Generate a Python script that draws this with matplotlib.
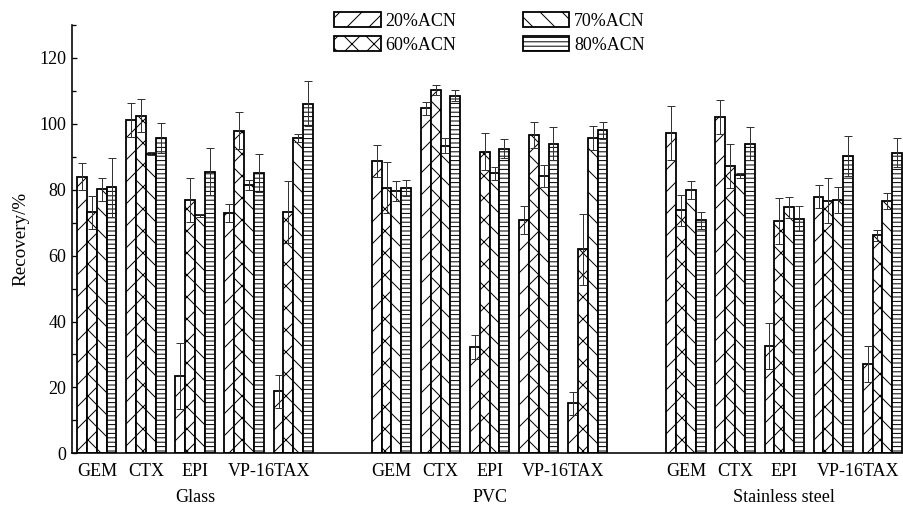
import matplotlib
matplotlib.use('Agg')
import matplotlib.pyplot as plt
import numpy as np

DPI = 132

# recovery (%) per drug, three surfaces: Glass, PVC, Stainless steel
surfaces = ['Glass', 'PVC', 'Stainless steel']
drugs = ['GEM', 'CTX', 'EPI', 'VP-16', 'TAX']
solvents = ['20%ACN', '60%ACN', '70%ACN', '80%ACN']

acn20 = [84.0, 101.2, 23.5, 72.9, 18.8,
         88.7, 104.7, 32.3, 70.8, 15.2,
         97.2, 102.1, 32.6, 77.9, 27.1]
acn60 = [73.2, 102.5, 77.0, 97.9, 73.2,
         80.6, 110.3, 91.5, 96.6, 61.9,
         73.7, 87.2, 70.4, 76.7, 66.2]
acn70 = [80.2, 90.9, 72.2, 81.4, 95.7,
         79.6, 93.3, 85.0, 84.1, 95.7,
         80.0, 84.4, 74.7, 76.9, 76.6]
acn80 = [80.7, 95.7, 85.5, 85.1, 106.1,
         80.6, 108.6, 92.4, 94.0, 98.0,
         70.7, 94.0, 71.2, 90.2, 91.3]

err20 = [4.1, 5.2, 10.0, 2.8, 5.0,
         4.8, 2.0, 3.6, 4.2, 3.5,
         8.1, 5.2, 7.1, 3.5, 5.6]
err60 = [5.0, 5.0, 6.7, 5.6, 9.5,
         7.8, 1.6, 5.6, 4.0, 10.8,
         4.7, 6.8, 7.0, 6.9, 1.7]
err70 = [3.5, 0.5, 0.5, 1.6, 1.3,
         3.0, 2.3, 1.9, 3.3, 3.5,
         2.8, 0.8, 3.2, 4.0, 2.3]
err80 = [9.0, 4.6, 7.1, 5.7, 6.9,
         2.4, 1.6, 2.9, 5.1, 2.7,
         2.6, 5.0, 3.8, 6.1, 4.3]

tick_labels = ['GEM', 'CTX', 'EPI', 'VP-16TAX']
hatches = ['//', 'xx', '\\\\', '-----']

px = 72.0 / DPI  # points per pixel

plt.rcParams['font.family'] = ['Liberation Serif', 'DejaVu Serif']
plt.rcParams['hatch.linewidth'] = 1.0 * px
plt.rcParams['hatch.color'] = 'black'

fig = plt.figure(figsize=(903 / DPI, 508 / DPI), dpi=DPI)
ax = fig.add_axes([72.3 / 903, 54.7 / 508, 1 - 72.3 / 903, 428.3 / 508])

# group positions: 5 drugs per surface, two empty slots between surfaces
centers = np.concatenate([np.arange(5) + 6 * i for i in range(len(surfaces))])
width = 0.2
values = [acn20, acn60, acn70, acn80]
errors = [err20, err60, err70, err80]

for j, (vals, errs) in enumerate(zip(values, errors)):
    xs = centers + (j - 1.5) * width
    ax.bar(xs, vals, width, color='white', edgecolor='black',
           linewidth=1.8 * px, hatch=hatches[j], label=solvents[j], zorder=2)
    ax.errorbar(xs, vals, yerr=errs, fmt='none', ecolor='#333333',
                elinewidth=1.0 * px, capsize=4.4 * px, capthick=1.0 * px, zorder=3)

ax.set_xlim(-0.5, 16.42)
ax.set_ylim(0, 130)
ax.set_yticks(range(0, 121, 20))
ax.set_yticks(range(10, 131, 20), minor=True)
ax.tick_params(axis='y', which='both', direction='in', width=1.3 * px,
               labelsize=18 * px, pad=6 * px)
ax.tick_params(axis='y', which='major', length=5 * px)
ax.tick_params(axis='y', which='minor', length=4 * px)

# drug names under each surface group
tick_pos = []
tick_txt = []
for i in range(len(surfaces)):
    tick_pos += [6 * i, 6 * i + 1, 6 * i + 2, 6 * i + 3.5]
    tick_txt += tick_labels
ax.set_xticks(tick_pos)
ax.set_xticklabels(tick_txt)
ax.tick_params(axis='x', length=0, labelsize=18 * px, pad=10 * px)

for i, name in enumerate(surfaces):
    ax.text(6 * i + 2, -0.103, name, transform=ax.get_xaxis_transform(),
            ha='center', va='center', fontsize=18 * px)

ax.set_ylabel('Recovery/%', fontsize=19 * px)
ax.yaxis.set_label_coords(-0.052, 0.5)

for side in ['top', 'right']:
    ax.spines[side].set_visible(False)
for side in ['left', 'bottom']:
    ax.spines[side].set_linewidth(1.6 * px)

ax.legend(loc='upper left', bbox_to_anchor=(334 / 903, 1 - 12 / 508),
          bbox_transform=fig.transFigure, ncol=2, frameon=False,
          fontsize=18 * px, handlelength=2.6, handleheight=0.9,
          handletextpad=0.25, columnspacing=3.7, labelspacing=0.35,
          borderpad=0, borderaxespad=0)

fig.savefig('out.png', dpi=DPI)
